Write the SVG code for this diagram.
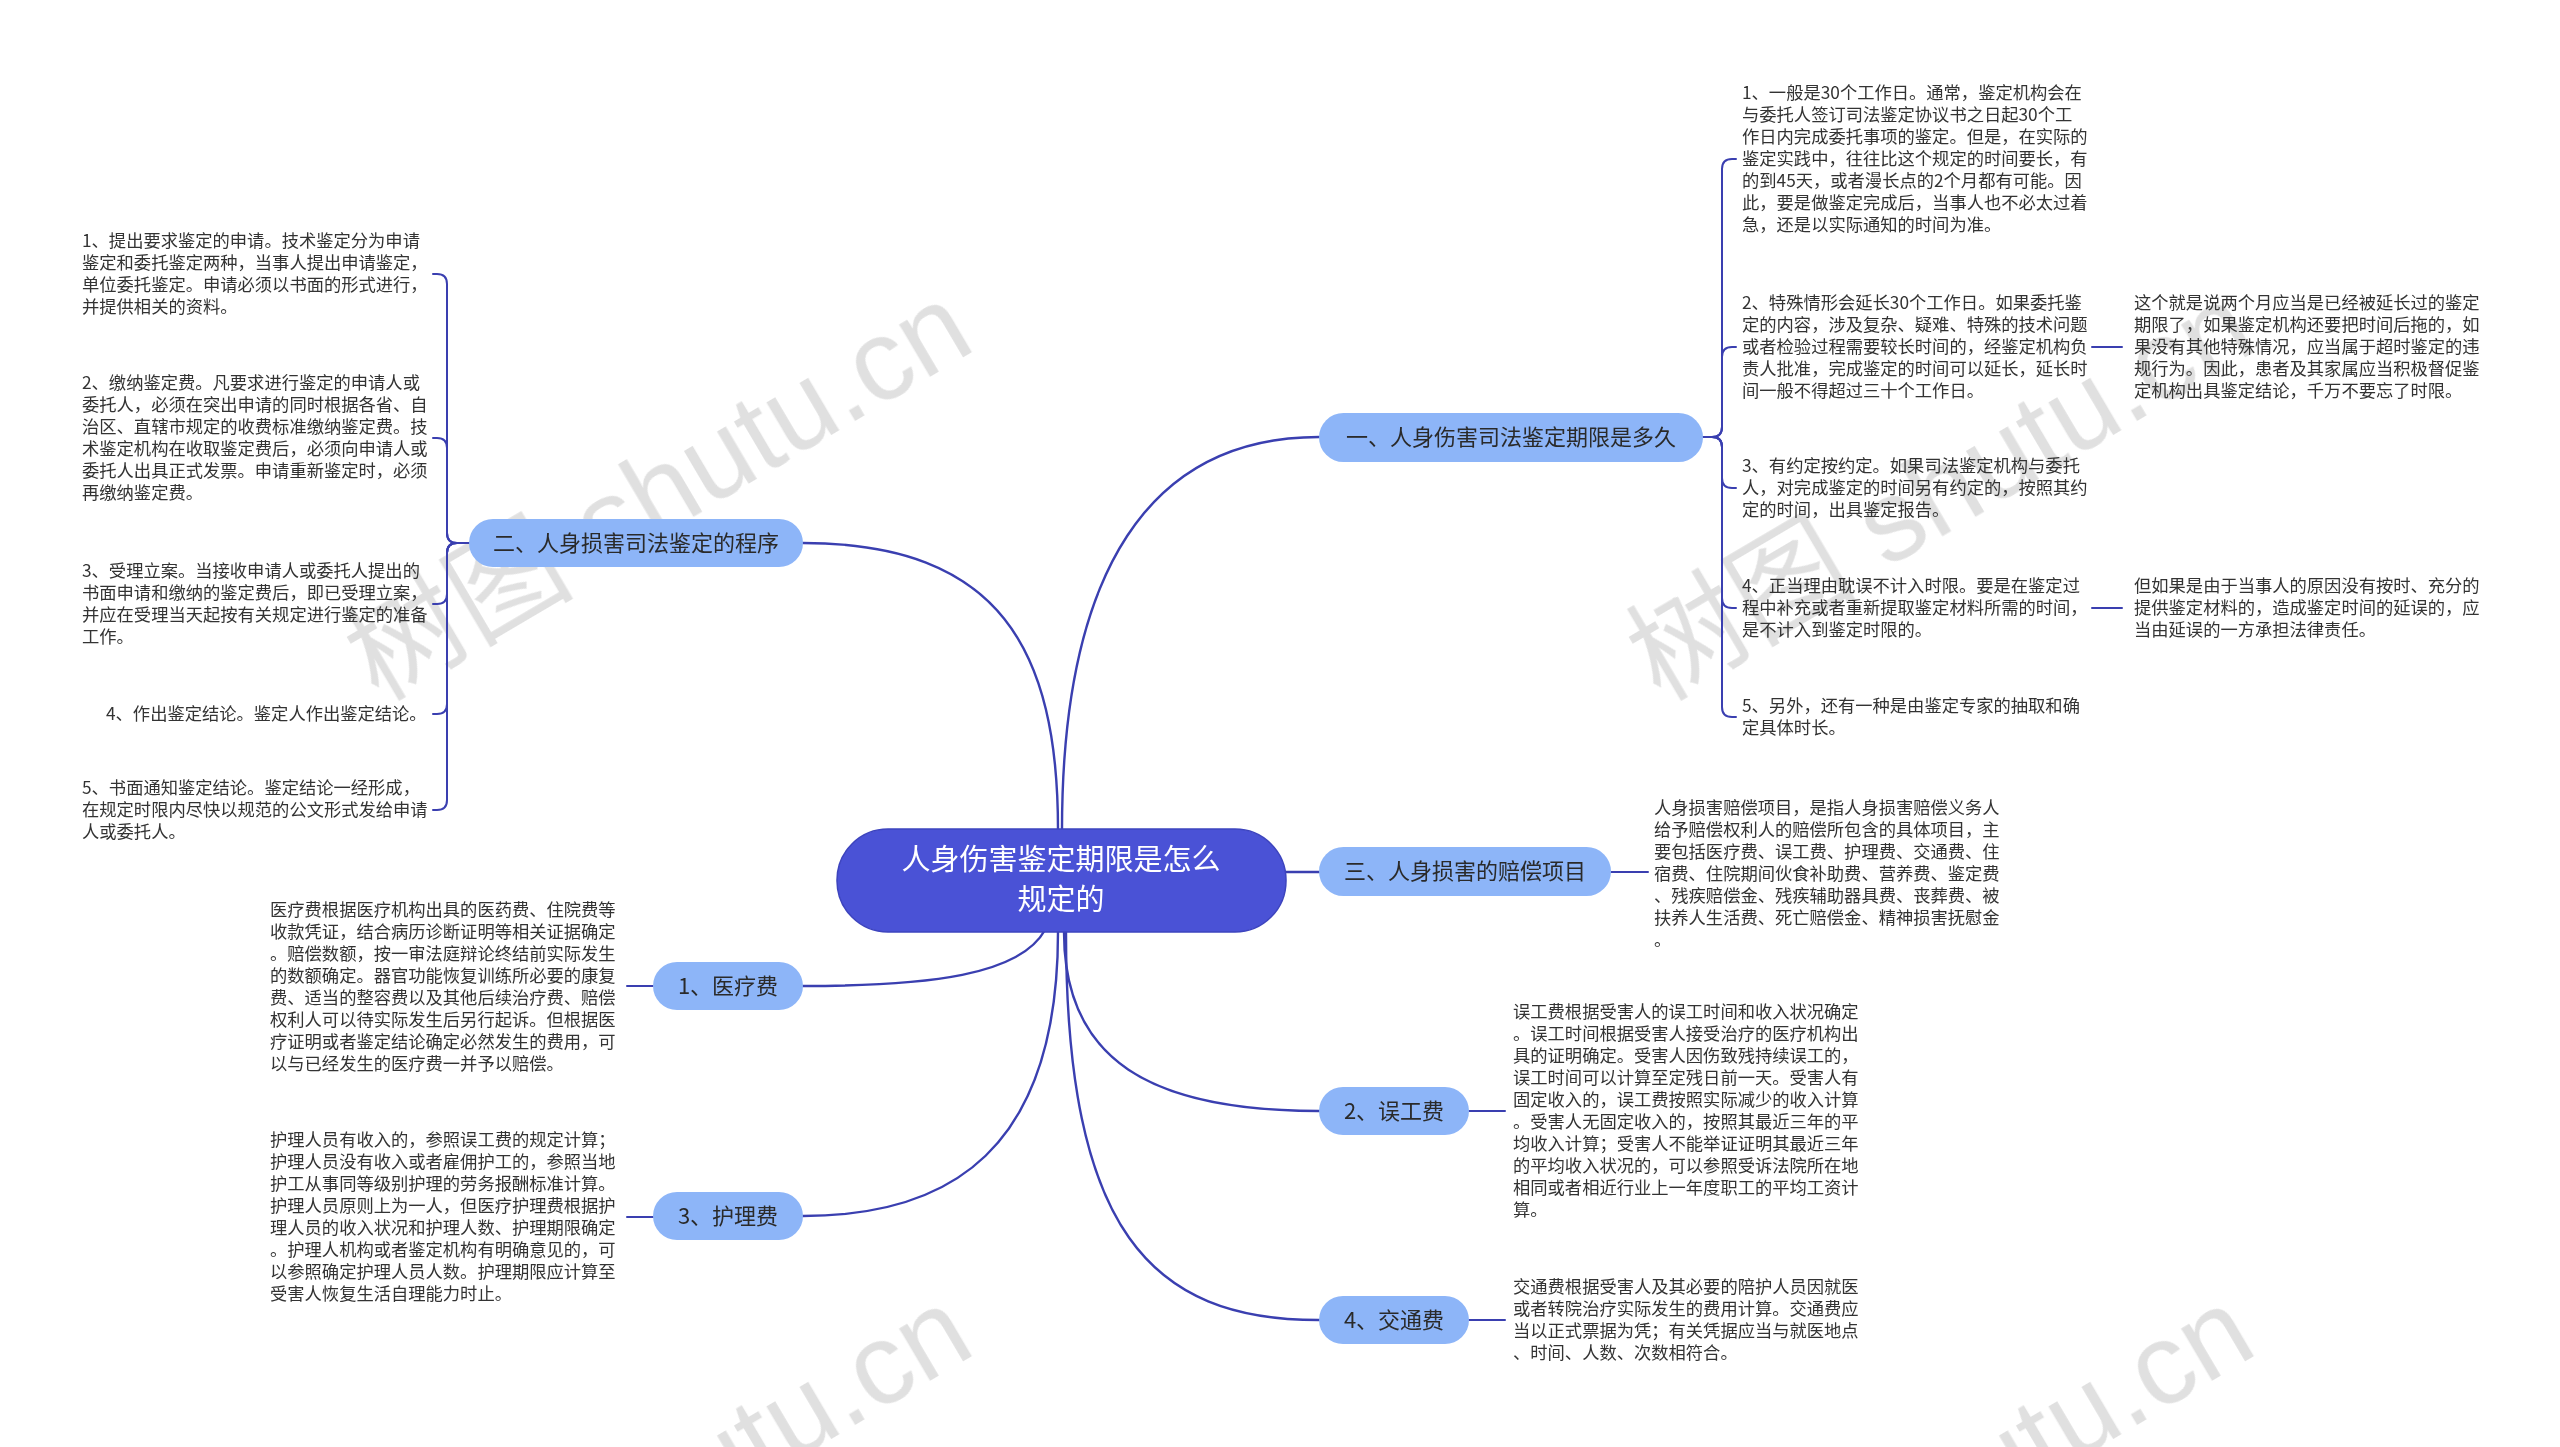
<svg xmlns="http://www.w3.org/2000/svg" width="2560" height="1447" viewBox="0 0 2560 1447">
<style>
text{font-family:"Noto Sans CJK SC","Noto Sans",sans-serif;}
.leaf{font-size:17.3px;fill:#333333;}
.btext{font-size:22px;fill:#2a2a2a;text-anchor:middle;}
.bnode{fill:#8DB5F8;}
.ctext{font-size:29px;fill:#ffffff;text-anchor:middle;}
.conn{fill:none;stroke:#3A3FB0;stroke-width:2.4;stroke-linecap:round;}
.thin{fill:none;stroke:#3A3FB0;stroke-width:2;stroke-linecap:round;}
.wm{font-family:"Liberation Sans","Noto Sans CJK SC",sans-serif;font-size:115px;fill:#d9d9d9;}
</style>
<rect width="2560" height="1447" fill="#ffffff"/>

<g id="watermarks" opacity="0.8">
<text class="wm" transform="translate(378 702) rotate(-30.5)">树图 shutu.cn</text>
<text class="wm" transform="translate(1660 702) rotate(-30.5)">树图 shutu.cn</text>
<text class="wm" transform="translate(378 1706) rotate(-30.5)">树图 shutu.cn</text>
<text class="wm" transform="translate(1660 1706) rotate(-30.5)">树图 shutu.cn</text>
</g>

<g id="connectors">
<path class="conn" d="M1062 830 C1062 570 1150 437 1319 437"/>
<path class="conn" d="M1058 830 C1058 650 1000 543 803 543"/>
<path class="conn" d="M1286 872 H1319"/>
<path class="conn" d="M1045 930 C1020 975 930 986 803 986"/>
<path class="conn" d="M1058 932 C1058 1150 950 1216 803 1216"/>
<path class="conn" d="M1064 932 C1064 1060 1150 1111 1319 1111"/>
<path class="conn" d="M1066 932 C1066 1230 1150 1320 1319 1320"/>
<path class="thin" d="M1703 437 H1712 Q1722 437 1722 427 V169 Q1722 159 1732 159 H1736"/>
<path class="thin" d="M1703 437 H1712 Q1722 437 1722 427 V357 Q1722 347 1732 347 H1736"/>
<path class="thin" d="M1703 437 H1712 Q1722 437 1722 447 V478 Q1722 488 1732 488 H1736"/>
<path class="thin" d="M1703 437 H1712 Q1722 437 1722 447 V598 Q1722 608 1732 608 H1736"/>
<path class="thin" d="M1703 437 H1712 Q1722 437 1722 447 V707 Q1722 717 1732 717 H1736"/>
<path class="thin" d="M2092 347 H2122"/>
<path class="thin" d="M2092 608 H2122"/>
<path class="thin" d="M469 543 H457 Q447 543 447 533 V284 Q447 274 437 274 H433"/>
<path class="thin" d="M469 543 H457 Q447 543 447 533 V448 Q447 438 437 438 H433"/>
<path class="thin" d="M469 543 H457 Q447 543 447 553 V594 Q447 604 437 604 H433"/>
<path class="thin" d="M469 543 H457 Q447 543 447 553 V704 Q447 714 437 714 H433"/>
<path class="thin" d="M469 543 H457 Q447 543 447 553 V800 Q447 810 437 810 H433"/>
<path class="thin" d="M1611 872 H1648"/>
<path class="thin" d="M627 986 H653"/>
<path class="thin" d="M627 1217 H653"/>
<path class="thin" d="M1469 1111 H1505"/>
<path class="thin" d="M1469 1320 H1505"/>
</g>

<g id="center">
<rect x="837" y="829" width="449" height="103" rx="51" fill="#4A52D6" stroke="#3D44BE" stroke-width="1.5"/>
<text class="ctext"><tspan x="1061" y="870">人身伤害鉴定期限是怎么</tspan><tspan x="1061" y="910">规定的</tspan></text>
</g>

<g id="b1">
<rect class="bnode" x="1319" y="413" width="384" height="49" rx="24.5"/>
<text class="btext" x="1511" y="445">一、人身伤害司法鉴定期限是多久</text>
</g>
<g id="b2">
<rect class="bnode" x="469" y="519" width="334" height="48" rx="24"/>
<text class="btext" x="636" y="551">二、人身损害司法鉴定的程序</text>
</g>
<g id="b3">
<rect class="bnode" x="1319" y="847" width="292" height="49" rx="24.5"/>
<text class="btext" x="1465" y="879">三、人身损害的赔偿项目</text>
</g>
<g id="b4">
<rect class="bnode" x="653" y="962" width="150" height="48" rx="24"/>
<text class="btext" x="728" y="994">1、医疗费</text>
</g>
<g id="b5">
<rect class="bnode" x="1319" y="1087" width="150" height="48" rx="24"/>
<text class="btext" x="1394" y="1119">2、误工费</text>
</g>
<g id="b6">
<rect class="bnode" x="653" y="1192" width="150" height="48" rx="24"/>
<text class="btext" x="728" y="1224">3、护理费</text>
</g>
<g id="b7">
<rect class="bnode" x="1319" y="1296" width="150" height="48" rx="24"/>
<text class="btext" x="1394" y="1328">4、交通费</text>
</g>

<g id="r1">
<text class="leaf"><tspan x="1742" y="99">1、一般是30个工作日。通常，鉴定机构会在</tspan><tspan x="1742" y="121">与委托人签订司法鉴定协议书之日起30个工</tspan><tspan x="1742" y="143">作日内完成委托事项的鉴定。但是，在实际的</tspan><tspan x="1742" y="165">鉴定实践中，往往比这个规定的时间要长，有</tspan><tspan x="1742" y="187">的到45天，或者漫长点的2个月都有可能。因</tspan><tspan x="1742" y="209">此，要是做鉴定完成后，当事人也不必太过着</tspan><tspan x="1742" y="231">急，还是以实际通知的时间为准。</tspan></text>
</g>
<g id="r2">
<text class="leaf"><tspan x="1742" y="309">2、特殊情形会延长30个工作日。如果委托鉴</tspan><tspan x="1742" y="331">定的内容，涉及复杂、疑难、特殊的技术问题</tspan><tspan x="1742" y="353">或者检验过程需要较长时间的，经鉴定机构负</tspan><tspan x="1742" y="375">责人批准，完成鉴定的时间可以延长，延长时</tspan><tspan x="1742" y="397">间一般不得超过三十个工作日。</tspan></text>
</g>
<g id="r2a">
<text class="leaf"><tspan x="2134" y="309">这个就是说两个月应当是已经被延长过的鉴定</tspan><tspan x="2134" y="331">期限了，如果鉴定机构还要把时间后拖的，如</tspan><tspan x="2134" y="353">果没有其他特殊情况，应当属于超时鉴定的违</tspan><tspan x="2134" y="375">规行为。因此，患者及其家属应当积极督促鉴</tspan><tspan x="2134" y="397">定机构出具鉴定结论，千万不要忘了时限。</tspan></text>
</g>
<g id="r3">
<text class="leaf"><tspan x="1742" y="472">3、有约定按约定。如果司法鉴定机构与委托</tspan><tspan x="1742" y="494">人，对完成鉴定的时间另有约定的，按照其约</tspan><tspan x="1742" y="516">定的时间，出具鉴定报告。</tspan></text>
</g>
<g id="r4">
<text class="leaf"><tspan x="1742" y="592">4、正当理由耽误不计入时限。要是在鉴定过</tspan><tspan x="1742" y="614">程中补充或者重新提取鉴定材料所需的时间，</tspan><tspan x="1742" y="636">是不计入到鉴定时限的。</tspan></text>
</g>
<g id="r4a">
<text class="leaf"><tspan x="2134" y="592">但如果是由于当事人的原因没有按时、充分的</tspan><tspan x="2134" y="614">提供鉴定材料的，造成鉴定时间的延误的，应</tspan><tspan x="2134" y="636">当由延误的一方承担法律责任。</tspan></text>
</g>
<g id="r5">
<text class="leaf"><tspan x="1742" y="712">5、另外，还有一种是由鉴定专家的抽取和确</tspan><tspan x="1742" y="734">定具体时长。</tspan></text>
</g>

<g id="l1">
<text class="leaf"><tspan x="82" y="247">1、提出要求鉴定的申请。技术鉴定分为申请</tspan><tspan x="82" y="269">鉴定和委托鉴定两种，当事人提出申请鉴定，</tspan><tspan x="82" y="291">单位委托鉴定。申请必须以书面的形式进行，</tspan><tspan x="82" y="313">并提供相关的资料。</tspan></text>
</g>
<g id="l2">
<text class="leaf"><tspan x="82" y="389">2、缴纳鉴定费。凡要求进行鉴定的申请人或</tspan><tspan x="82" y="411">委托人，必须在突出申请的同时根据各省、自</tspan><tspan x="82" y="433">治区、直辖市规定的收费标准缴纳鉴定费。技</tspan><tspan x="82" y="455">术鉴定机构在收取鉴定费后，必须向申请人或</tspan><tspan x="82" y="477">委托人出具正式发票。申请重新鉴定时，必须</tspan><tspan x="82" y="499">再缴纳鉴定费。</tspan></text>
</g>
<g id="l3">
<text class="leaf"><tspan x="82" y="577">3、受理立案。当接收申请人或委托人提出的</tspan><tspan x="82" y="599">书面申请和缴纳的鉴定费后，即已受理立案，</tspan><tspan x="82" y="621">并应在受理当天起按有关规定进行鉴定的准备</tspan><tspan x="82" y="643">工作。</tspan></text>
</g>
<g id="l4">
<text class="leaf" x="106" y="720">4、作出鉴定结论。鉴定人作出鉴定结论。</text>
</g>
<g id="l5">
<text class="leaf"><tspan x="82" y="794">5、书面通知鉴定结论。鉴定结论一经形成，</tspan><tspan x="82" y="816">在规定时限内尽快以规范的公文形式发给申请</tspan><tspan x="82" y="838">人或委托人。</tspan></text>
</g>

<g id="c3">
<text class="leaf"><tspan x="1654" y="814">人身损害赔偿项目，是指人身损害赔偿义务人</tspan><tspan x="1654" y="836">给予赔偿权利人的赔偿所包含的具体项目，主</tspan><tspan x="1654" y="858">要包括医疗费、误工费、护理费、交通费、住</tspan><tspan x="1654" y="880">宿费、住院期间伙食补助费、营养费、鉴定费</tspan><tspan x="1654" y="902">、残疾赔偿金、残疾辅助器具费、丧葬费、被</tspan><tspan x="1654" y="924">扶养人生活费、死亡赔偿金、精神损害抚慰金</tspan><tspan x="1654" y="946">。</tspan></text>
</g>
<g id="c4">
<text class="leaf"><tspan x="270" y="916">医疗费根据医疗机构出具的医药费、住院费等</tspan><tspan x="270" y="938">收款凭证，结合病历诊断证明等相关证据确定</tspan><tspan x="270" y="960">。赔偿数额，按一审法庭辩论终结前实际发生</tspan><tspan x="270" y="982">的数额确定。器官功能恢复训练所必要的康复</tspan><tspan x="270" y="1004">费、适当的整容费以及其他后续治疗费、赔偿</tspan><tspan x="270" y="1026">权利人可以待实际发生后另行起诉。但根据医</tspan><tspan x="270" y="1048">疗证明或者鉴定结论确定必然发生的费用，可</tspan><tspan x="270" y="1070">以与已经发生的医疗费一并予以赔偿。</tspan></text>
</g>
<g id="c6">
<text class="leaf"><tspan x="270" y="1146">护理人员有收入的，参照误工费的规定计算；</tspan><tspan x="270" y="1168">护理人员没有收入或者雇佣护工的，参照当地</tspan><tspan x="270" y="1190">护工从事同等级别护理的劳务报酬标准计算。</tspan><tspan x="270" y="1212">护理人员原则上为一人，但医疗护理费根据护</tspan><tspan x="270" y="1234">理人员的收入状况和护理人数、护理期限确定</tspan><tspan x="270" y="1256">。护理人机构或者鉴定机构有明确意见的，可</tspan><tspan x="270" y="1278">以参照确定护理人员人数。护理期限应计算至</tspan><tspan x="270" y="1300">受害人恢复生活自理能力时止。</tspan></text>
</g>
<g id="c5">
<text class="leaf"><tspan x="1513" y="1018">误工费根据受害人的误工时间和收入状况确定</tspan><tspan x="1513" y="1040">。误工时间根据受害人接受治疗的医疗机构出</tspan><tspan x="1513" y="1062">具的证明确定。受害人因伤致残持续误工的，</tspan><tspan x="1513" y="1084">误工时间可以计算至定残日前一天。受害人有</tspan><tspan x="1513" y="1106">固定收入的，误工费按照实际减少的收入计算</tspan><tspan x="1513" y="1128">。受害人无固定收入的，按照其最近三年的平</tspan><tspan x="1513" y="1150">均收入计算；受害人不能举证证明其最近三年</tspan><tspan x="1513" y="1172">的平均收入状况的，可以参照受诉法院所在地</tspan><tspan x="1513" y="1194">相同或者相近行业上一年度职工的平均工资计</tspan><tspan x="1513" y="1216">算。</tspan></text>
</g>
<g id="c7">
<text class="leaf"><tspan x="1513" y="1293">交通费根据受害人及其必要的陪护人员因就医</tspan><tspan x="1513" y="1315">或者转院治疗实际发生的费用计算。交通费应</tspan><tspan x="1513" y="1337">当以正式票据为凭；有关凭据应当与就医地点</tspan><tspan x="1513" y="1359">、时间、人数、次数相符合。</tspan></text>
</g>
</svg>
